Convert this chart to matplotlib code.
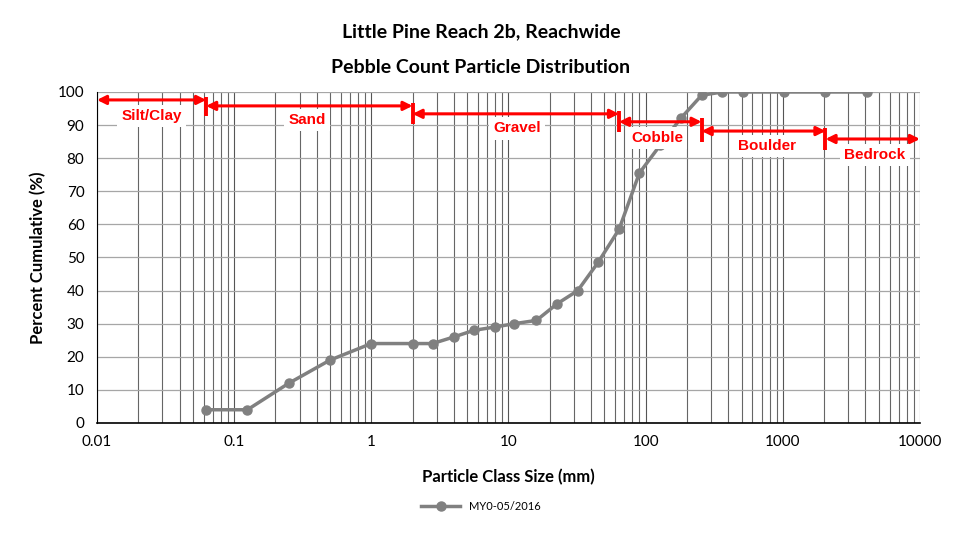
import matplotlib
matplotlib.use("Agg")
import matplotlib.pyplot as plt
from matplotlib.ticker import FixedLocator, FixedFormatter, NullFormatter
import numpy as np

# particle size classes (mm) and cumulative percent finer
sizes = [0.062, 0.125, 0.25, 0.5, 1, 2, 2.8, 4, 5.6, 8, 11, 16, 22.6, 32, 45,
         64, 90, 128, 180, 256, 362, 512, 1024, 2048, 4096]
cumulative = [4, 4, 12, 19, 24, 24, 24, 26, 28, 29, 30, 31, 36, 40, 48.5,
              58.5, 75.5, 84, 92, 99, 100, 100, 100, 100, 100]
series_name = "MY0-05/2016"

# size class boundaries and labels
class_names = ["Silt/Clay", "Sand", "Gravel", "Cobble", "Boulder", "Bedrock"]
class_edges = [0.01, 0.0625, 2, 64, 256, 2048, 10000]
arrow_y = [97.6, 95.8, 93.4, 91.0, 88.2, 85.8]
label_x = [0.025, 0.34, 11.5, 121, 770, 4700]
label_y = [92.7, 91.5, 89.0, 86.0, 83.7, 81.0]

x_ticks = [0.01, 0.1, 1, 10, 100, 1000, 10000]
x_tick_labels = ["0.01", "0.1", "1", "10", "100", "1000", "10000"]
y_ticks = list(range(0, 101, 10))

fig = plt.figure(figsize=(9.62, 5.37), dpi=100)
ax = fig.add_axes([0.1008, 0.2123, 0.8555, 0.6164])

ax.set_xscale("log")
ax.set_xlim(0.01, 10000)
ax.set_ylim(0, 100)

ax.xaxis.set_major_locator(FixedLocator(x_ticks))
ax.xaxis.set_major_formatter(FixedFormatter(x_tick_labels))
minor = [m * 10.0 ** e for e in range(-2, 4) for m in range(2, 10)]
ax.xaxis.set_minor_locator(FixedLocator(minor))
ax.xaxis.set_minor_formatter(NullFormatter())
ax.set_yticks(y_ticks)

ax.grid(True, which="major", axis="x", color="#555555", lw=0.8)
ax.grid(True, which="minor", axis="x", color="#666666", lw=0.8)
ax.grid(True, which="major", axis="y", color="#a6a6a6", lw=0.9)
ax.set_axisbelow(True)

for side in ["top", "right"]:
    ax.spines[side].set_visible(False)
ax.spines["left"].set_color("black")
ax.spines["bottom"].set_color("black")
ax.spines["bottom"].set_linewidth(1.2)
ax.tick_params(which="both", length=0, labelsize=11, pad=9)
for lab in ax.get_xticklabels() + ax.get_yticklabels():
    lab.set_family("Lato")

ax.plot(sizes, cumulative, color="#808080", lw=2.5, marker="o", ms=6.5,
        label=series_name, zorder=3)

red = "#ff0000"
for i, name in enumerate(class_names):
    x0, x1 = class_edges[i], class_edges[i + 1]
    ax.annotate("", xy=(x1, arrow_y[i]), xytext=(x0, arrow_y[i]),
                arrowprops=dict(arrowstyle="<|-|>", color=red, lw=2.2,
                                mutation_scale=13, shrinkA=0, shrinkB=0),
                zorder=5)
    if i < len(class_names) - 1:
        ax.plot([x1, x1], [arrow_y[i + 1] - 3.2, arrow_y[i] + 1.0],
                color=red, lw=2.8, zorder=6, solid_capstyle="butt")
    ax.text(label_x[i], label_y[i], name, color=red, fontsize=11,
            fontweight="bold", family="Liberation Sans", ha="center",
            va="center", zorder=4,
            bbox=dict(facecolor="white", edgecolor="none", pad=3))

ax.set_xlabel("Particle Class Size (mm)", fontsize=12, fontweight="bold",
              family="Lato", labelpad=14)
ax.set_ylabel("Percent Cumulative (%)", fontsize=12, fontweight="bold",
              family="Lato", labelpad=8)

fig.text(0.5, 0.94, "Little Pine Reach 2b, Reachwide", ha="center",
         va="center", fontsize=14, fontweight="bold", family="Lato")
fig.text(0.5, 0.875, "Pebble Count Particle Distribution", ha="center",
         va="center", fontsize=14, fontweight="bold", family="Lato")

leg = fig.legend(loc="center", bbox_to_anchor=(0.5, 0.057), frameon=False,
                 prop={"family": "Lato", "size": 8}, handlelength=3.5)

fig.savefig("out.png", dpi=100)
